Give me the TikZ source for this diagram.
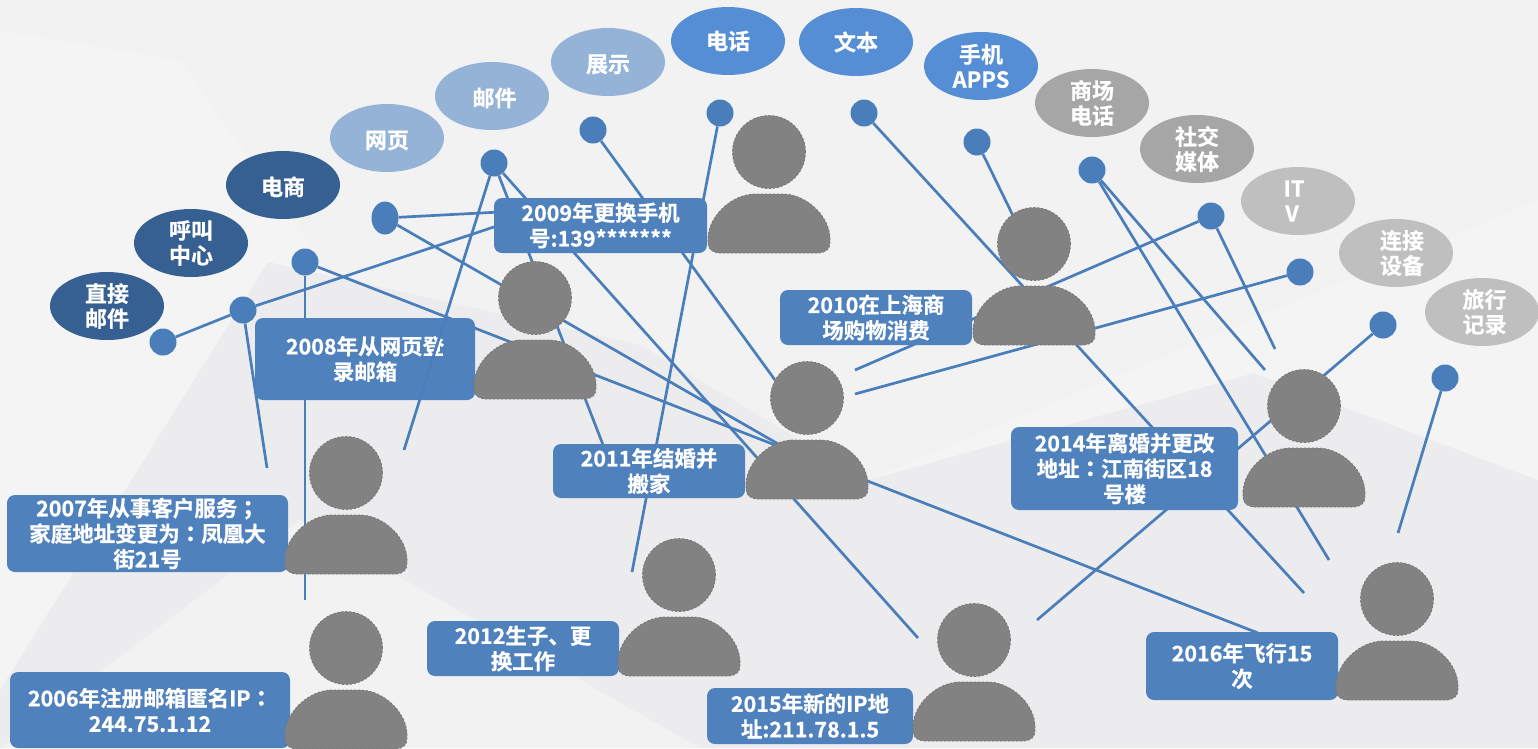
\documentclass[tikz,border=0pt]{standalone}
\usepackage{fontspec}
\usepackage{xcolor}
\usetikzlibrary{shapes.geometric}
\setmainfont{Noto Sans CJK SC}[BoldFont={Noto Sans CJK SC Bold},BoldFeatures={FakeBold=0.6}]
\newfontfamily\tcfont{Noto Sans CJK TC Bold}[FakeBold=0.6]
\definecolor{bgbase}{HTML}{F2F2F3}
\definecolor{bgdark}{HTML}{ECECEE}
\definecolor{bglite}{HTML}{F4F4F5}
\definecolor{linkblue}{HTML}{4A7EBB}
\definecolor{boxblue}{HTML}{4F81BD}
\definecolor{navy}{HTML}{376092}
\definecolor{paleblue}{HTML}{95B3D7}
\definecolor{skyblue}{HTML}{558ED5}
\definecolor{midgray}{HTML}{A6A6A6}
\definecolor{litegray}{HTML}{BFBFBF}
\definecolor{figgray}{HTML}{828282}
\definecolor{figedge}{HTML}{767676}
\newcommand{\midp}[1]{{\tcfont #1}}
\tikzset{
	channel/.style={ellipse,minimum width=114pt,minimum height=68pt,inner sep=0pt,
		text=white,align=center,font=\fontsize{22}{25}\selectfont\bfseries},
	lowered/.style={execute at begin node={\rule{0pt}{22.5pt}}},
	event/.style={rectangle,rounded corners=8pt,fill=boxblue,inner sep=0pt,
		text=white,align=center,font=\fontsize{21.5}{25.5}\selectfont\bfseries},
	dot/.style={circle,fill=linkblue,minimum size=27pt,inner sep=0pt},
	link/.style={draw=linkblue,line width=2.7pt},
	person/.pic={
		\filldraw[fill=figgray,draw=figedge,line width=.8pt,dash pattern=on 2pt off 2pt] (0,0) ellipse (36.5pt and 36.5pt);
		\filldraw[fill=figgray,draw=figedge,line width=.8pt,dash pattern=on 2pt off 2pt] (-61,90) .. controls (-63,66) and (-38,42) .. (-14,42)
			-- (14,42) .. controls (38,42) and (63,66) .. (61,90)
			.. controls (61,97) and (58,100) .. (50,101) -- (-50,101)
			.. controls (-58,100) and (-61,97) .. (-61,90) -- cycle;
	}
}
\begin{document}
\begin{tikzpicture}[x=1pt,y=-1pt]
	\useasboundingbox (0,0) rectangle (1538,748);
	% background
	\fill[bgbase] (0,0) rectangle (1538,748);
	\fill[bglite] (0,30) -- (180,60) -- (420,400) -- (0,700) -- cycle;
	\fill[bgdark] (0,690) -- (268,262) -- (640,345) -- (868,480) -- (1254,373) -- (1538,480) -- (1538,748) -- (0,748) -- cycle;
	\fill[bgbase] (0,748) -- (300,520) -- (700,748) -- cycle;
	\fill[bglite] (868,480) -- (1538,200) -- (1538,480) -- (1254,373) -- cycle;
	% channels
	\node[channel,fill=navy] (direct) at (107,306) {直接\\邮件};
	\node[channel,fill=navy] (callcenter) at (191,243) {呼叫\\中心};
	\node[channel,lowered,fill=navy] (ecommerce) at (283,185) {电商};
	\node[channel,lowered,fill=paleblue] (web) at (387,138) {网页};
	\node[channel,lowered,fill=paleblue] (mail) at (492,96) {\kern5pt 邮件};
	\node[channel,lowered,fill=paleblue] (show) at (608,62) {展示};
	\node[channel,fill=skyblue] (phone) at (728,41) {电话};
	\node[channel,fill=skyblue] (text) at (856,42) {文本};
	\node[channel,fill=skyblue] (apps) at (981,66) {手机\\APPS};
	\node[channel,fill=midgray] (mallphone) at (1092,103) {商场\\电话};
	\node[channel,fill=midgray] (social) at (1197,149) {社交\\媒体};
	\node[channel,fill=litegray] (itv) at (1298,201) {IT\kern8pt\\V\kern12pt};
	\node[channel,fill=litegray] (device) at (1396,253) {\kern12pt 连接\\\kern12pt 设备};
	\node[channel,fill=litegray] (travel) at (1482,312) {\kern5pt 旅行\\\kern5pt 记录};
	% dots
	\node[dot] (d1) at (163,342) {};
	\node[dot] (d2) at (243,310) {};
	\node[dot] (d3) at (305,262) {};
	\node[dot,ellipse,minimum width=27pt,minimum height=33pt] (d4) at (385,218) {};
	\node[dot] (d5) at (494,163) {};
	\node[dot] (d6) at (593,130) {};
	\node[dot] (d7) at (720,113) {};
	\node[dot] (d8) at (864,113) {};
	\node[dot] (d9) at (977,142) {};
	\node[dot] (d10) at (1092,170) {};
	\node[dot] (d11) at (1211,216) {};
	\node[dot] (d12) at (1300,272) {};
	\node[dot] (d13) at (1383,325) {};
	\node[dot] (d14) at (1445,378) {};
	% free ends
	\coordinate (e1) at (500,225);
	\coordinate (e2) at (267,468);
	\coordinate (e3a) at (305,600);
	\coordinate (e3b) at (1258,633);
	\coordinate (e4a) at (500,212);
	\coordinate (e4b) at (780,445);
	\coordinate (e5a) at (404,450);
	\coordinate (e5b) at (605,450);
	\coordinate (e5c) at (918,638);
	\coordinate (e6) at (775,380);
	\coordinate (e7) at (632,572);
	\coordinate (e8) at (1304,593);
	\coordinate (e9) at (1020,230);
	\coordinate (e10a) at (1265,370);
	\coordinate (e10b) at (1329,560);
	\coordinate (e11a) at (1275,349);
	\coordinate (e11b) at (855,370);
	\coordinate (e12) at (855,394);
	\coordinate (e13) at (1037,620);
	\coordinate (e14) at (1398,533);
	% links
	\draw[link] (d1) -- (d2);
	\draw[link] (d2) -- (e1);
	\draw[link] (d2) -- (e2);
	\draw[link] (d3) -- (e3a);
	\draw[link] (d3) -- (e3b);
	\draw[link] (d4) -- (e4a);
	\draw[link] (d4) -- (e4b);
	\draw[link] (d5) -- (e5b);
	\draw[link] (d5) -- (e5c);
	\draw[link] (d6) -- (e6);
	\draw[link] (d7) -- (e7);
	\draw[link] (d8) -- (e8);
	\draw[link] (d9) -- (e9);
	\draw[link] (d10) -- (e10a);
	\draw[link] (d10) -- (e10b);
	\draw[link] (d11) -- (e11a);
	\draw[link] (d11) -- (e11b);
	\draw[link] (d12) -- (e12);
	\draw[link] (d13) -- (e13);
	\draw[link] (d14) -- (e14);
	% events
	\node[event,minimum width=213pt,minimum height=55pt] (ev2009) at (600.5,225.5) {2009年更换手机\\号:139*******};
	\node[event,minimum width=220pt,minimum height=82pt] (ev2008) at (365,359) {2008年从网页登\\录邮箱};
	\node[event,minimum width=281pt,minimum height=77pt] (ev2007) at (147.5,533.5) {2007年从事客户服务\midp{；}\\家庭地址变更为\midp{：}凤凰大\\街21号};
	\node[event,minimum width=280pt,minimum height=76pt] (ev2006) at (150,710) {2006年注册邮箱匿名IP\midp{：}\\244.75.1.12};
	\node[event,minimum width=192pt,minimum height=55pt] (ev2012) at (523,648.5) {2012生子、更\\换工作};
	\node[event,minimum width=192pt,minimum height=54pt] (ev2011) at (649,471) {2011年结婚并\\搬家};
	\node[event,minimum width=192pt,minimum height=55pt] (ev2010) at (876,317.5) {2010在上海商\\场购物消费};
	\node[event,minimum width=227pt,minimum height=83pt] (ev2014) at (1124.5,468.5) {2014年离婚并更改\\地址\midp{：}江南街区18\\号楼};
	\node[event,minimum width=206pt,minimum height=56pt] (ev2015) at (810,716) {2015年新的IP地\\址:211.78.1.5};
	\node[event,minimum width=192pt,minimum height=68pt] (ev2016) at (1242,666) {2016年飞行15\\次};
	% this one runs over its box
	\draw[link] (d5) -- (e5a);
	% people
	\pic at (769,152) {person};
	\pic at (535,298) {person};
	\pic at (346,473) {person};
	\pic at (346,648) {person};
	\pic at (679,575) {person};
	\pic at (807,398) {person};
	\pic at (1034,244) {person};
	\pic at (1304,406) {person};
	\pic at (974,640) {person};
	\pic at (1397,599) {person};
\end{tikzpicture}
\end{document}
